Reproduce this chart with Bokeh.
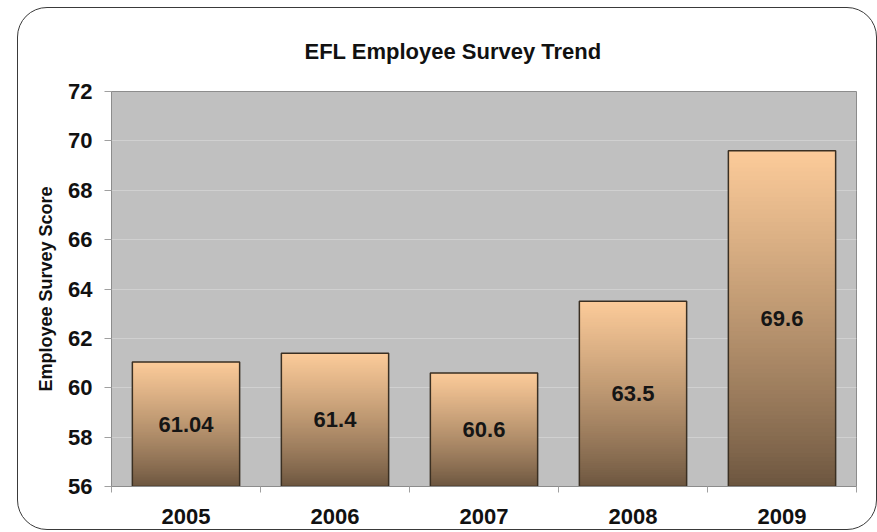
from bokeh.plotting import figure
from bokeh.models import (ColumnDataSource, Range1d, LinearAxis, FixedTicker)
from bokeh.core.properties import value
from bokeh.embed import file_html
from bokeh.resources import INLINE

# ---- data ----
years = ["2005", "2006", "2007", "2008", "2009"]
scores = [61.04, 61.4, 60.6, 63.5, 69.6]
score_labels = ["61.04", "61.4", "60.6", "63.5", "69.6"]
y_ticks = [56, 58, 60, 62, 64, 66, 68, 70, 72]
y_min, y_max = 56, 72
title_text = "EFL Employee Survey Trend"
y_title = "Employee Survey Score"

FONT = "Liberation Sans"
TOP_RGB = (252, 203, 153)
BOT_RGB = (106, 84, 62)

# category centres on a numeric scale (one unit per category)
xc = [i + 0.5 for i in range(len(years))]

p = figure(width=860, height=523, x_range=Range1d(0, len(years)),
           y_range=Range1d(y_min, y_max), output_backend="svg",
           toolbar_location=None, x_axis_location=None,
           min_border_left=93, min_border_right=22, min_border_top=83,
           min_border_bottom=45, margin=(7, 0, 0, 17),
           border_fill_color=None, background_fill_color="#c0c0c0",
           outline_line_color="#8c8c8c", outline_line_width=1,
           styles={"border": "1.5px solid #3a3a3a", "border-radius": "30px"})

# title
p.title.text = title_text
p.title.text_font = FONT
p.title.text_font_size = "22px"
p.title.text_font_style = "bold"
p.title.text_color = "#111111"
p.title.align = "left"
p.title.offset = 193
p.title.standoff = 56

# y axis
ya = p.yaxis[0]
ya.ticker = FixedTicker(ticks=y_ticks)
ya.axis_label = y_title
ya.axis_label_text_font = FONT
ya.axis_label_text_font_size = "18px"
ya.axis_label_text_font_style = "bold"
ya.axis_label_text_color = "#111111"
ya.axis_label_standoff = 9
ya.major_label_text_font = FONT
ya.major_label_text_font_size = "22px"
ya.major_label_text_font_style = "bold"
ya.major_label_text_color = "#111111"
ya.major_label_standoff = 12
ya.major_tick_out = 7
ya.major_tick_in = 0
ya.minor_tick_out = 0
ya.minor_tick_in = 0
ya.axis_line_color = "#8c8c8c"
ya.major_tick_line_color = "#a0a0a0"

p.ygrid.grid_line_color = "#d0d0d0"
p.ygrid.grid_line_width = 1
p.xgrid.grid_line_color = None

# separator ticks between categories (no labels)
sep_axis = LinearAxis(ticker=FixedTicker(ticks=list(range(len(years) + 1))))
sep_axis.major_label_text_font_size = "1px"
sep_axis.major_label_text_alpha = 0
sep_axis.major_label_standoff = 0
sep_axis.major_tick_out = 6
sep_axis.major_tick_in = 0
sep_axis.minor_tick_out = 0
sep_axis.minor_tick_in = 0
sep_axis.axis_line_color = "#8c8c8c"
sep_axis.major_tick_line_color = "#a0a0a0"
p.add_layout(sep_axis, "below")

# category labels
cat_axis = LinearAxis(ticker=FixedTicker(ticks=xc))
cat_axis.major_label_overrides = {c: y for c, y in zip(xc, years)}
cat_axis.major_label_text_font = FONT
cat_axis.major_label_text_font_size = "22px"
cat_axis.major_label_text_font_style = "bold"
cat_axis.major_label_text_color = "#111111"
cat_axis.major_label_standoff = 10
cat_axis.major_tick_line_color = None
cat_axis.minor_tick_line_color = None
cat_axis.axis_line_color = None
p.add_layout(cat_axis, "below")

# gradient bars: each slice spans from its start up to the bar top, drawn
# bottom-first so the next slice covers the rest (no seams)
N = 80
sx, sb, st, sc = [], [], [], []
for cx, v in zip(xc, scores):
    for i in range(N):
        f0 = i / N
        t = (i + 0.5) / N
        tt = t ** 0.85
        r, g, b = (int(round(BOT_RGB[k] + (TOP_RGB[k] - BOT_RGB[k]) * tt)) for k in range(3))
        sx.append(cx)
        sb.append(y_min + (v - y_min) * f0)
        st.append(v)
        sc.append("#%02x%02x%02x" % (r, g, b))
slices = ColumnDataSource(dict(x=sx, bottom=sb, top=st, color=sc))
p.vbar(x="x", bottom="bottom", top="top", width=0.72, source=slices,
       fill_color="color", line_color=None)

bars = ColumnDataSource(dict(x=xc, top=scores,
                             mid=[(y_min + v) / 2 for v in scores],
                             label=score_labels))
p.vbar(x="x", bottom=y_min, top="top", width=0.72, source=bars,
       fill_color=None, line_color="#3a2f22", line_width=1.5)

p.text(x="x", y="mid", text="label", source=bars, text_align="center",
       text_baseline="middle", text_font=value(FONT), text_font_size="22px",
       text_font_style="bold", text_color="#151515")

open("out.html", "w").write(file_html(p, INLINE))
